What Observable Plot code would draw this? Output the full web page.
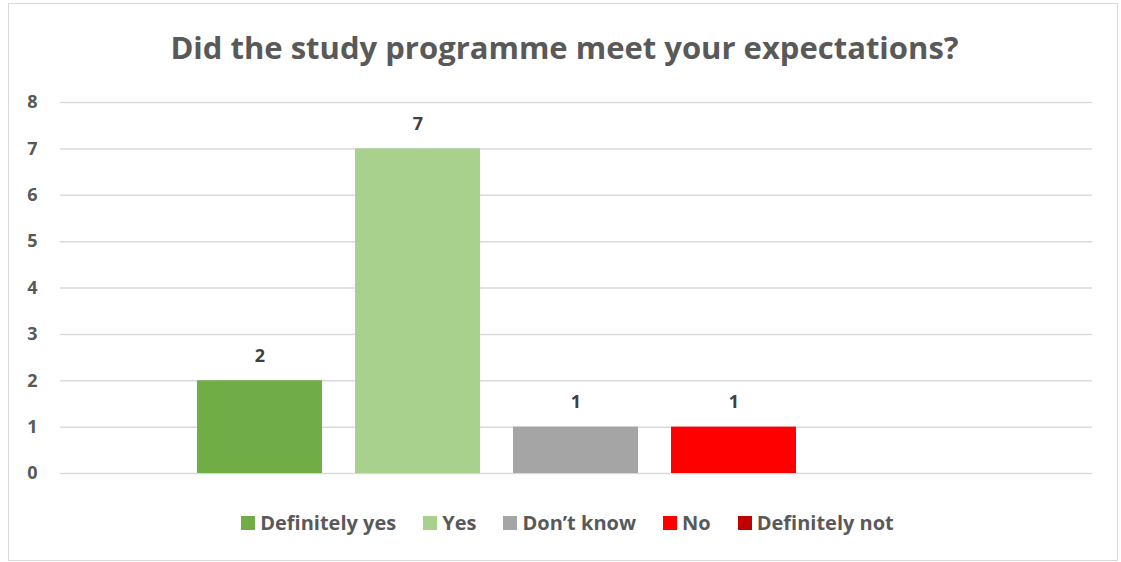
<!DOCTYPE html>
<html>
<head>
<meta charset="utf-8">
<script src="https://cdn.jsdelivr.net/npm/d3@7"></script>
<script src="https://cdn.jsdelivr.net/npm/@observablehq/plot@0.6"></script>
<style>
  html, body { margin: 0; padding: 0; background: #fff; }
  body { width: 1121px; height: 562px; position: relative; overflow: hidden; font-family: "Open Sans", sans-serif; }
  #frame { position: absolute; left: 8px; top: 3px; width: 1108px; height: 556px; border: 1.5px solid #d9d9d9; box-sizing: content-box; }
  #title { position: absolute; left: 4px; top: 26px; width: 1121px; text-align: center; font-size: 31px; font-weight: 700; color: #595959; line-height: 42px; }
  #chart { position: absolute; left: 0; top: 80px; }
  #legend { position: absolute; left: 7px; top: 510px; width: 1121px; display: flex; justify-content: center; gap: 27px; font-size: 20px; font-weight: 700; color: #595959; }
  .item { display: flex; align-items: center; gap: 5px; line-height: 26px; }
  .sw { width: 14px; height: 14px; display: inline-block; }
</style>
</head>
<body>
<div id="frame"></div>
<div id="title">Did the study programme meet your expectations?</div>
<div id="chart"></div>
<div id="legend"></div>
<script>
const categories = ["Definitely yes", "Yes", "Don\u2019t know", "No", "Definitely not"];
const values = [2, 7, 1, 1, null];
const colors = ["#70AD47", "#A9D18E", "#A5A5A5", "#FF0000", "#C00000"];
const yTicks = [0, 1, 2, 3, 4, 5, 6, 7, 8];

const data = categories.map((c, i) => ({category: c, value: values[i]}));

const chart = Plot.plot({
  width: 1121,
  height: 420,
  marginLeft: 60,
  marginRight: 29,
  marginTop: 22,
  marginBottom: 27,
  style: {fontFamily: "'Open Sans', sans-serif", background: "transparent"},
  x: {domain: categories, range: [179.5, 970.5], paddingInner: 0.21, paddingOuter: 0.105, axis: null},
  y: {domain: [0, 8], ticks: yTicks},
  color: {domain: categories, range: colors},
  marks: [
    Plot.ruleY(yTicks, {stroke: "#d9d9d9", strokeWidth: 1.5}),
    Plot.axisY(yTicks, {tickSize: 0, tickPadding: 23, fontSize: 18, fontWeight: 700, fill: "#595959", label: null}),
    Plot.barY(data.filter(d => d.value != null), {x: "category", y: "value", fill: "category"}),
    Plot.text(data.filter(d => d.value != null), {x: "category", y: "value", text: d => String(d.value), dy: -25, fontSize: 18, fontWeight: 700, fill: "#404040"})
  ]
});
document.getElementById("chart").appendChild(chart);

const legend = document.getElementById("legend");
categories.forEach((c, i) => {
  const item = document.createElement("div");
  item.className = "item";
  const sw = document.createElement("span");
  sw.className = "sw";
  sw.style.background = colors[i];
  const t = document.createElement("span");
  t.textContent = c;
  item.appendChild(sw);
  item.appendChild(t);
  legend.appendChild(item);
});
</script>
</body>
</html>
